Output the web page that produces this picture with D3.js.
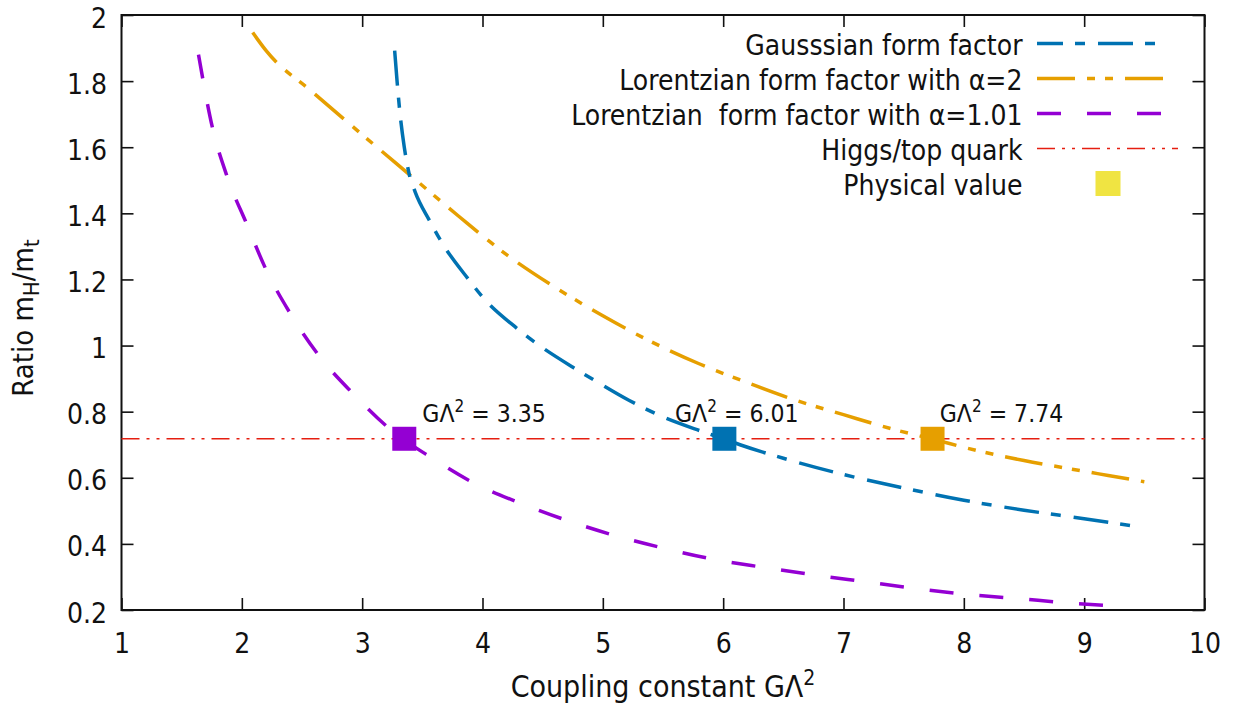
<!DOCTYPE html>
<html>
<head>
<meta charset="utf-8">
<script src="https://cdn.jsdelivr.net/npm/d3@7"></script>
<style>
  html, body { margin: 0; padding: 0; background: #fff; }
  svg { display: block; }
  text { font-family: 'DejaVu Sans Condensed', 'DejaVu Sans', sans-serif; font-stretch: condensed; fill: #111; white-space: pre; }
</style>
</head>
<body>
<svg id="chart" width="1239" height="705" xml:space="preserve"></svg>
<script>
// ---- data ----
const xTicks = [1, 2, 3, 4, 5, 6, 7, 8, 9, 10];
const yTicks = [0.2, 0.4, 0.6, 0.8, 1.0, 1.2, 1.4, 1.6, 1.8, 2.0];
const yTickLabels = ["0.2", "0.4", "0.6", "0.8", "1", "1.2", "1.4", "1.6", "1.8", "2"];

const gaussX = [3.27, 3.29, 3.315, 3.35, 3.39, 3.44, 3.56, 3.66, 3.88, 4.00, 4.29, 4.45, 4.77, 4.93, 5.22, 5.47, 5.81, 6.01, 6.14, 6.5, 7.0, 7.5, 8.0, 8.5, 9.0, 9.39];
const gaussY = [1.892, 1.80, 1.70, 1.60, 1.52, 1.465, 1.378, 1.313, 1.202, 1.147, 1.051, 1.006, 0.930, 0.895, 0.834, 0.789, 0.742, 0.717, 0.700, 0.659, 0.610, 0.569, 0.532, 0.502, 0.476, 0.455];

const lor2X = [2.09, 2.2, 2.6, 3.0, 3.4, 3.8, 4.2, 4.6, 5.0, 5.4, 5.8, 6.2, 6.6, 7.0, 7.4, 7.74, 8.1, 8.5, 8.9, 9.2, 9.5];
const lor2Y = [1.947, 1.893, 1.763, 1.638, 1.515, 1.392, 1.275, 1.177, 1.090, 1.012, 0.945, 0.888, 0.835, 0.791, 0.748, 0.717, 0.683, 0.652, 0.626, 0.607, 0.588];

const lor101X = [1.64, 1.756, 1.881, 2.039, 2.205, 2.413, 2.646, 2.923, 3.242, 3.574, 3.934, 4.323, 4.710, 5.112, 5.516, 5.925, 6.334, 6.760, 7.169, 7.578, 8.022, 8.437, 8.853, 9.268];
const lor101Y = [1.880, 1.659, 1.508, 1.369, 1.227, 1.091, 0.967, 0.855, 0.744, 0.661, 0.583, 0.522, 0.470, 0.424, 0.386, 0.353, 0.329, 0.306, 0.286, 0.266, 0.247, 0.235, 0.222, 0.212];

const higgsTopRatio = 0.718;
const physicalX = [3.35, 6.01, 7.74];
const physicalLabels = ["3.35", "6.01", "7.74"];
const labelX = [3.5, 5.6, 7.8];
const labelY = 0.77;

const seriesNames = ["Gausssian form factor", "Lorentzian form factor with \u03B1=2", "Lorentzian  form factor with \u03B1=1.01", "Higgs/top quark", "Physical value"];

// ---- styles ----
const C = { blue: "#0072b2", orange: "#e69f00", purple: "#9400d3", red: "#e51e10", yellow: "#f0e442" };
const dashBlue = "35,12,10,13";
const dashOrange = "38,12,8,10,8,12";
const dashPurple = "24,26";
const dashRed = "18,7,3,7,3,7";
const FS = 28;

const svg = d3.select("#chart");
const pL = 121.5, pR = 1204.5, pT = 15, pB = 610;
const x = d3.scaleLinear().domain([1, 10]).range([pL, pR]);
const y = d3.scaleLinear().domain([0.2, 2]).range([pB, pT]);

// axes
const gB = svg.append("g").attr("transform", `translate(0,${pB})`)
  .call(d3.axisBottom(x).tickValues(xTicks).tickFormat(d3.format("d")).tickSize(-12).tickPadding(23));
const gL = svg.append("g").attr("transform", `translate(${pL},0)`)
  .call(d3.axisLeft(y).tickValues(yTicks).tickFormat((d, i) => yTickLabels[i]).tickSize(-12).tickPadding(14.5));
const gT = svg.append("g").attr("transform", `translate(0,${pT})`)
  .call(d3.axisTop(x).tickValues(xTicks).tickFormat("").tickSize(-12));
const gR = svg.append("g").attr("transform", `translate(${pR},0)`)
  .call(d3.axisRight(y).tickValues(yTicks).tickFormat("").tickSize(-12));
[gB, gL, gT, gR].forEach(g => {
  g.select(".domain").remove();
  g.selectAll(".tick line").attr("stroke", "#111").attr("stroke-width", 1.6);
  g.selectAll("text").attr("font-size", FS).attr("fill", "#111")
    .style("font-family", "'DejaVu Sans Condensed','DejaVu Sans',sans-serif");
});
gL.selectAll("text").attr("dy", "0.43em");

svg.append("rect").attr("x", pL).attr("y", pT).attr("width", pR - pL).attr("height", pB - pT)
  .attr("fill", "none").attr("stroke", "#111").attr("stroke-width", 2);

// horizontal Higgs/top line
svg.append("line").attr("x1", x(1)).attr("x2", x(10)).attr("y1", y(higgsTopRatio)).attr("y2", y(higgsTopRatio))
  .attr("stroke", C.red).attr("stroke-width", 1.5).attr("stroke-dasharray", dashRed);

// curves
const line = d3.line().x(d => x(d[0])).y(d => y(d[1])).curve(d3.curveMonotoneX);
function curve(xs, ys, color, dash) {
  svg.append("path").datum(xs.map((v, i) => [v, ys[i]])).attr("d", line)
    .attr("fill", "none").attr("stroke", color).attr("stroke-width", 3.5).attr("stroke-dasharray", dash);
}
curve(lor101X, lor101Y, C.purple, dashPurple);
curve(lor2X, lor2Y, C.orange, dashOrange);
curve(gaussX, gaussY, C.blue, dashBlue);

// physical value markers
const mColors = [C.purple, C.blue, C.orange];
const M = 24;
svg.selectAll("rect.marker").data(physicalX).join("rect").attr("class", "marker")
  .attr("x", d => x(d) - M / 2).attr("y", y(higgsTopRatio) - M / 2).attr("width", M).attr("height", M)
  .attr("fill", (d, i) => mColors[i]);

// annotations
physicalLabels.forEach((lab, i) => {
  const t = svg.append("text").attr("x", x(labelX[i])).attr("y", y(labelY)).attr("font-size", 24.5);
  t.append("tspan").text("G\u039B");
  t.append("tspan").attr("dy", -10).attr("font-size", 17).text("2");
  t.append("tspan").attr("dy", 10).text(" = " + lab);
});

// legend
const lgTextX = 1022.5, lgX1 = 1037, lgX2 = 1167, lgY0 = 55, lgStep = 35;
const lgStyles = [
  { color: C.blue, dash: dashBlue, offset: 9 },
  { color: C.orange, dash: dashOrange, offset: 0 },
  { color: C.purple, dash: dashPurple, offset: 0 },
  { color: C.red, dash: dashRed, offset: 0, w: 1.5, x2: 1178 },
  { color: C.yellow, square: true }
];
seriesNames.forEach((name, i) => {
  const by = lgY0 + i * lgStep;
  svg.append("text").attr("x", lgTextX).attr("y", by).attr("text-anchor", "end").attr("font-size", FS).text(name);
  const s = lgStyles[i];
  if (s.square) {
    svg.append("rect").attr("x", 1108 - 12.5).attr("y", by - 11.5 - 12.5).attr("width", 25).attr("height", 25).attr("fill", s.color);
  } else {
    svg.append("line").attr("x1", lgX1).attr("x2", s.x2 || lgX2).attr("y1", by - 11.5).attr("y2", by - 11.5)
      .attr("stroke", s.color).attr("stroke-width", s.w || 3.5).attr("stroke-dasharray", s.dash)
      .attr("stroke-dashoffset", s.offset);
  }
});

// axis titles
const xt = svg.append("text").attr("x", (pL + pR) / 2).attr("y", 697).attr("text-anchor", "middle").attr("font-size", 30);
xt.append("tspan").text("Coupling constant G\u039B");
xt.append("tspan").attr("dy", -12).attr("font-size", 21).text("2");

const yt = svg.append("text").attr("transform", "translate(33,318) rotate(-90)").attr("text-anchor", "middle").attr("font-size", 29);
yt.append("tspan").text("Ratio m");
yt.append("tspan").attr("dy", 6).attr("font-size", 22).text("H");
yt.append("tspan").attr("dy", -6).text("/m");
yt.append("tspan").attr("dy", 6).attr("font-size", 22).text("t");
</script>
</body>
</html>
